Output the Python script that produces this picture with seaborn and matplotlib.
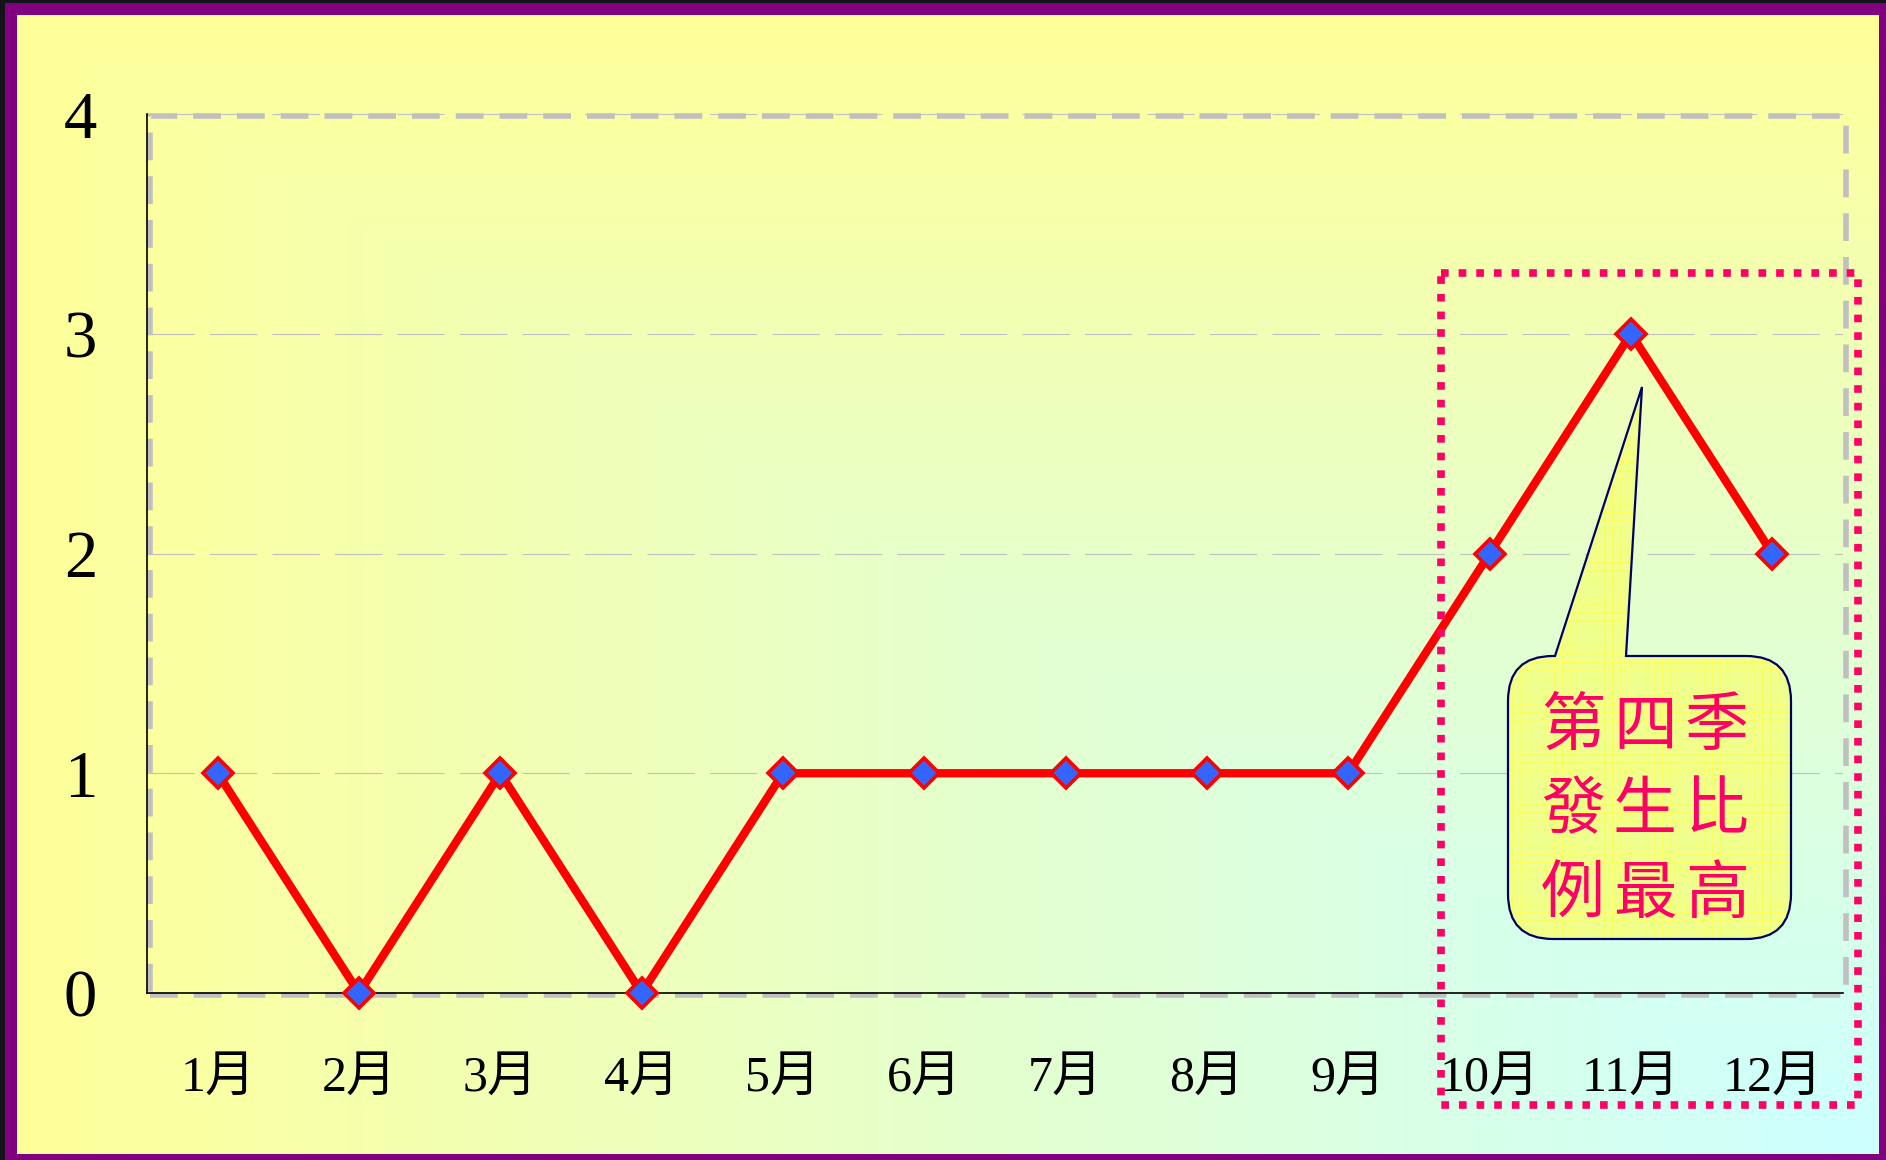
"""
月別發生件數折線圖：第四季發生比例最高。
"""

import numpy as np
import pandas as pd
import matplotlib

matplotlib.use("Agg")
import matplotlib.pyplot as plt
import matplotlib.transforms as mtransforms
from matplotlib.patches import PathPatch, Rectangle
from matplotlib.path import Path
import seaborn as sns

# ---- data ----
months = ["1月", "2月", "3月", "4月", "5月", "6月",
          "7月", "8月", "9月", "10月", "11月", "12月"]
cases = [1, 0, 1, 0, 1, 1, 1, 1, 1, 2, 3, 2]
y_ticks = [0, 1, 2, 3, 4]
note_lines = ["第四季", "發生比", "例最高"]

W, H, DPI = 1886, 1160, 100

sns.set_style("white")
plt.rcParams["font.family"] = ["Liberation Serif", "Noto Sans CJK TC"]
plt.rcParams["text.color"] = "black"
plt.rcParams["xtick.color"] = "black"
plt.rcParams["ytick.color"] = "black"
plt.rcParams["lines.scale_dashes"] = False
plt.rcParams["hatch.linewidth"] = 0.6

fig = plt.figure(figsize=(W / DPI, H / DPI), dpi=DPI, facecolor="#13131c")

# ---- page: purple frame + corner gradient ----
bg = fig.add_axes([0, 0, 1, 1], zorder=0)
bg.add_patch(Rectangle((5, 3), W, H, facecolor="#800080", edgecolor="none",
                       zorder=0))
x0, x1, y0, y1 = 17, 1879, 15, 1154
u = np.linspace(0, 1, 400)[None, :]
v = np.linspace(0, 1, 250)[:, None]
t = np.minimum(u, v)[..., None]
yellow = np.array([1.0, 1.0, 0.6])
cyan = np.array([0.8, 1.0, 1.0])
bg.imshow(yellow * (1 - t) + cyan * t, extent=(x0, x1, y1, y0),
          aspect="auto", interpolation="bilinear", zorder=1)
bg.set_xlim(0, W)
bg.set_ylim(H, 0)
bg.axis("off")

# ---- chart ----
ax = fig.add_axes([147 / W, 1 - 993 / H, (1843 - 147) / W, (993 - 114) / H], zorder=1)
ax.set_facecolor("none")

df = pd.DataFrame({"月份": months, "件數": cases})
sns.lineplot(
    data=df, x="月份", y="件數", ax=ax, sort=False,
    color="#FF0000", linewidth=6,
    marker="D", markersize=15, markerfacecolor="#3366FF",
    markeredgecolor="#FF0000", markeredgewidth=2.6,
    clip_on=False, zorder=5,
)

ax.set_xlim(-0.5, len(months) - 0.5)
ax.set_ylim(y_ticks[0], y_ticks[-1])
ax.set_xlabel("")
ax.set_ylabel("")

ax.set_yticks(y_ticks)
ax.tick_params(axis="y", direction="in", length=14, width=1.2,
               pad=36, labelsize=48)
ax.set_xticks(range(len(months)))
ax.set_xticklabels(months)
ax.tick_params(axis="x", which="major", length=0, pad=45, labelsize=36)
ax.set_xticks(np.arange(0.5, len(months), 1), minor=True)
ax.tick_params(axis="x", which="minor", direction="in", length=11.5, width=1.0)

ax.yaxis.grid(True, color="#C0C0C0", linewidth=0.8, linestyle=(0, (34, 11)))
ax.xaxis.grid(False)
ax.set_axisbelow(True)

for side in ["top", "right"]:
    ax.spines[side].set_visible(False)
for side in ["left", "bottom"]:
    ax.spines[side].set_color("black")
    ax.spines[side].set_linewidth(1.2)
    ax.spines[side].set_zorder(3)

# gray dashed plot-area border, nudged a few px right/down like the original
frame_tr = mtransforms.offset_copy(ax.transAxes, fig=fig, x=3, y=-2, units="dots")
ax.add_patch(Rectangle((0, 0), 1, 1, transform=frame_tr, fill=False,
                       edgecolor="#C0C0C0", linewidth=4,
                       linestyle=(0, (20, 11.5)), clip_on=False, zorder=2))

# ---- annotations (pixel coordinates) ----
ov = fig.add_axes([0, 0, 1, 1], zorder=3)
ov.set_xlim(0, W)
ov.set_ylim(H, 0)
ov.axis("off")

# dotted box around Q4
ov.add_patch(Rectangle((1441, 273), 1858 - 1441, 1105 - 273, fill=False,
                       edgecolor="#FF0066", linewidth=5.5,
                       linestyle=(0, (5.5, 7.2)), capstyle="butt"))

# callout bubble
L, R, T, B, r = 1508, 1791, 656, 939, 45
verts = [
    (1555, T), (1642, 387), (1626, T),
    (R - r, T), (R, T), (R, T + r),
    (R, B - r), (R, B), (R - r, B),
    (L + r, B), (L, B), (L, B - r),
    (L, T + r), (L, T), (L + r, T),
    (1555, T),
]
codes = ([Path.MOVETO, Path.LINETO, Path.LINETO]
         + [Path.LINETO, Path.CURVE3, Path.CURVE3] * 4
         + [Path.CLOSEPOLY])
bubble = Path(verts, codes)
ov.add_patch(PathPatch(bubble, facecolor="#EEFF90", edgecolor="#FFFF55",
                       linewidth=0, hatch="++"))
ov.add_patch(PathPatch(bubble, fill=False, edgecolor="#000066", linewidth=1.6))

# note text, one character per cell
cx, cy, step_x, step_y = 1645, 811, 72, 84
for row, line in enumerate(note_lines):
    for col, ch in enumerate(line):
        ov.text(cx + (col - 1) * step_x, cy + (row - 1) * step_y, ch,
                ha="center", va="center", color="#FF0066", fontsize=46,
                family=["Noto Sans CJK TC"])

fig.savefig("out.png", dpi=DPI, facecolor=fig.get_facecolor())
plt.close(fig)
